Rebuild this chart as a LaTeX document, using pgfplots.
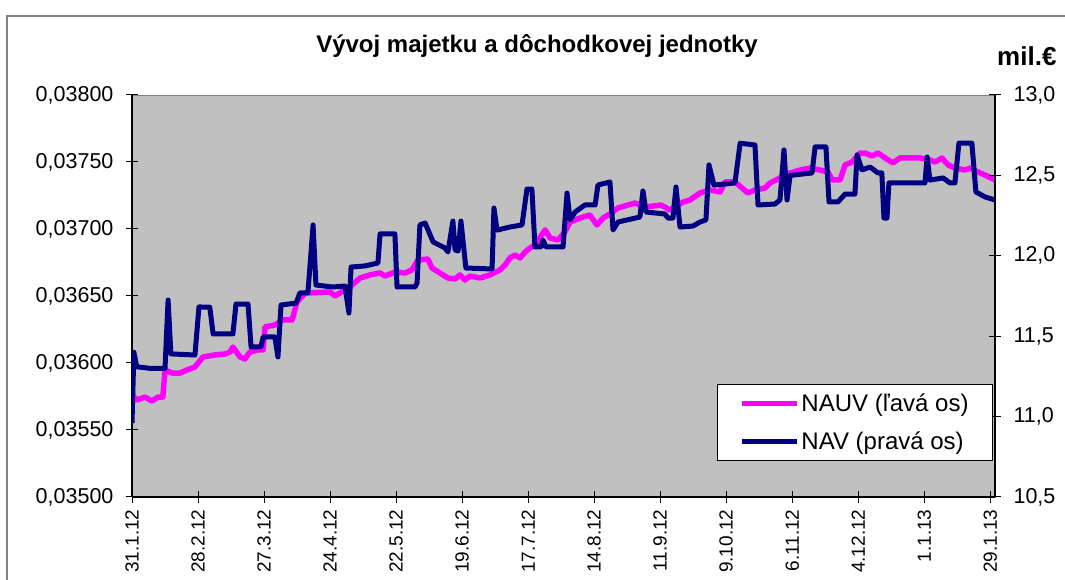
\documentclass[border=0pt]{standalone}
\usepackage{fontspec}
\setmainfont{Liberation Sans}
\usepackage{pgfplots}
\usepackage{pgfplotstable}
\pgfplotsset{compat=1.18}
\definecolor{plotgray}{RGB}{192,192,192}
\definecolor{navyc}{RGB}{0,0,128}
\definecolor{magc}{RGB}{255,0,255}

\pgfplotstableread{
day nauv
0 0.035761
2.1 0.035724
5.5 0.035746
8.5 0.035716
11 0.035746
13.1 0.035746
14 0.035948
17 0.035925
20.4 0.035925
23.3 0.035948
26.7 0.035970
30.1 0.036045
35.2 0.036060
39.4 0.036067
41.6 0.036082
42.8 0.036119
45.8 0.036045
47.9 0.036030
50 0.036082
53.4 0.036097
55.6 0.036097
56.4 0.036269
60.6 0.036284
64 0.036321
67.9 0.036321
70 0.036455
73.4 0.036522
84 0.036530
86.1 0.036500
88.2 0.036522
90.3 0.036552
93.3 0.036582
96.7 0.036634
100.9 0.036657
105.2 0.036672
107.3 0.036649
111.5 0.036679
115.8 0.036672
118.7 0.036694
121.3 0.036769
125.5 0.036776
127.2 0.036709
130.6 0.036672
134 0.036634
137 0.036627
139.1 0.036657
141.2 0.036619
143.3 0.036649
147.6 0.036634
151.8 0.036657
156.1 0.036694
158.2 0.036731
160.3 0.036784
162.4 0.036806
164.6 0.036784
166.7 0.036828
168.8 0.036858
170.9 0.036881
175.2 0.036993
177.3 0.036933
180.7 0.036918
183.6 0.036978
185.8 0.037052
190 0.037082
194.2 0.037104
197.2 0.037030
199.8 0.037082
202.7 0.037112
206.1 0.037157
210.4 0.037179
213.3 0.037194
217.6 0.037164
224.3 0.037179
228.2 0.037142
233.7 0.037201
236.6 0.037216
240.9 0.037269
245.1 0.037291
249.4 0.037276
251.5 0.037351
255.7 0.037351
261.2 0.037269
264.2 0.037291
268.5 0.037306
270.6 0.037343
274.8 0.037381
279.1 0.037418
283.3 0.037440
287.5 0.037455
291.8 0.037440
295.2 0.037425
296.9 0.037366
300.3 0.037366
302.4 0.037478
305.4 0.037500
308.8 0.037567
310.9 0.037567
313.8 0.037545
316.4 0.037567
319.4 0.037530
322.7 0.037493
325.7 0.037530
334.2 0.037530
338.4 0.037515
340.6 0.037500
343.5 0.037530
346.1 0.037478
349 0.037455
353.3 0.037440
355.4 0.037455
358.8 0.037425
361.8 0.037403
366 0.037366
}\nauvdata

\pgfplotstableread{
day nav
0 10.96
0.8 11.40
2 11.31
7.6 11.30
14 11.30
15.3 11.725
16.5 11.39
26.7 11.383
28.4 11.682
33 11.68
34.4 11.514
42.8 11.514
44.1 11.70
49.2 11.70
50.5 11.433
54.7 11.433
55.6 11.495
60.6 11.495
61.9 11.371
63.2 11.694
69.6 11.706
71.2 11.769
74.6 11.769
76.8 12.192
78 11.818
85.2 11.806
90.3 11.812
92 11.644
92.9 11.93
98.8 11.937
104.3 11.955
105.2 12.136
111.5 12.136
112.4 11.806
120 11.806
120.9 11.831
122.1 12.192
124.3 12.204
127.7 12.086
132.7 12.049
134 12.024
136.1 12.216
137 12.036
138.3 12.03
139.5 12.216
141.6 11.924
152.7 11.918
153.5 12.297
154.8 12.16
160.3 12.179
165.4 12.192
167.5 12.415
169.6 12.415
170.9 12.055
173.5 12.055
174.3 12.098
175.6 12.055
182.8 12.055
184.5 12.39
185.8 12.223
187.9 12.272
192.1 12.316
196.4 12.316
197.6 12.44
202.7 12.459
204 12.16
206.1 12.21
215.4 12.241
216.7 12.403
218 12.272
226 12.26
227.3 12.235
229.4 12.235
230.7 12.428
232.4 12.179
237.9 12.185
240.9 12.21
243.4 12.223
244.7 12.565
246.8 12.44
255.7 12.453
257.9 12.70
264.2 12.689
265.5 12.316
272.7 12.322
274.8 12.347
276.5 12.658
277.8 12.347
279.1 12.50
288.4 12.515
289.7 12.677
294.3 12.677
295.6 12.335
299.4 12.335
302.4 12.384
306.6 12.384
307.5 12.627
309.6 12.534
313 12.552
316.4 12.515
318 12.515
318.9 12.235
320.2 12.235
321 12.453
336.3 12.453
337.2 12.614
338.4 12.471
344 12.484
346.9 12.453
349 12.453
350.7 12.70
356.2 12.70
357.9 12.397
361.8 12.366
366 12.347
}\navdata

\begin{document}
\begin{tikzpicture}
\useasboundingbox (0,0) rectangle (1065pt,580pt);
\fill[white] (0,0) rectangle (1065pt,580pt);
\draw[gray, line width=1.5pt] (7pt,-5pt) -- (7pt,564pt) -- (1070pt,564pt);
\node[anchor=base, font=\fontsize{24}{28}\selectfont\bfseries] at (537pt,527pt) {Vývoj majetku a dôchodkovej jednotky};
\node[anchor=base west, font=\fontsize{26}{30}\selectfont\bfseries, inner sep=0pt] at (997pt,514pt) {mil.€};

\begin{axis}[
  at={(132pt,83pt)}, anchor=south west, scale only axis,
  width=863pt, height=402pt,
  xmin=0, xmax=366, ymin=0.035, ymax=0.038,
  axis background/.style={fill=plotgray, draw=gray},
  axis x line*=bottom, axis y line*=left,
  axis line style={-, black, line width=1.3pt},
  tick align=center, major tick length=12pt,
  tick style={black, line width=1pt},
  xtick={0,28,...,364},
  xticklabels={31.1.12,28.2.12,27.3.12,24.4.12,22.5.12,19.6.12,17.7.12,14.8.12,11.9.12,9.10.12,6.11.12,4.12.12,1.1.13,29.1.13},
  xticklabel style={rotate=90, anchor=east, xshift=-3pt, font=\fontsize{19}{22}\selectfont},
  ytick={0.035,0.0355,0.036,0.0365,0.037,0.0375,0.038},
  scaled y ticks=false,
  yticklabel style={/pgf/number format/fixed, /pgf/number format/fixed zerofill,
    /pgf/number format/precision=5, /pgf/number format/use comma,
    /pgf/number format/assume math mode=true,
    font=\fontsize{21.5}{24}\selectfont, anchor=east, xshift=-9pt},
]
\addplot[magc, line width=5.5pt, line join=round] table[x=day, y=nauv] {\nauvdata};
\end{axis}

\begin{axis}[
  at={(132pt,83pt)}, anchor=south west, scale only axis,
  width=863pt, height=402pt,
  xmin=0, xmax=366, ymin=10.5, ymax=13,
  axis x line=none, axis y line*=right,
  axis line style={-, black, line width=1.3pt},
  tick align=center, major tick length=12pt,
  tick style={black, line width=1pt},
  ytick={10.5,11,11.5,12,12.5,13},
  yticklabel style={/pgf/number format/fixed, /pgf/number format/fixed zerofill,
    /pgf/number format/precision=1, /pgf/number format/use comma,
    /pgf/number format/assume math mode=true,
    font=\fontsize{21.5}{24}\selectfont, anchor=west, xshift=9pt},
  legend image code/.code={\draw[#1] (0pt,0pt) -- (55pt,0pt);},
  legend cell align=left,
  legend style={at={(0.9977,0.2811)}, anchor=north east, draw=black, line width=1pt,
    fill=white, font=\fontsize{24}{28}\selectfont,
    inner xsep=22pt, inner ysep=0pt,
    nodes={inner xsep=2pt, inner ysep=9.5pt}},
]
\addlegendimage{magc, line width=5pt}
\addlegendentry{NAUV (ľavá os)}
\addplot[navyc, line width=5pt, line join=round] table[x=day, y=nav] {\navdata};
\addlegendentry{NAV (pravá os)}
\end{axis}
\end{tikzpicture}
\end{document}
